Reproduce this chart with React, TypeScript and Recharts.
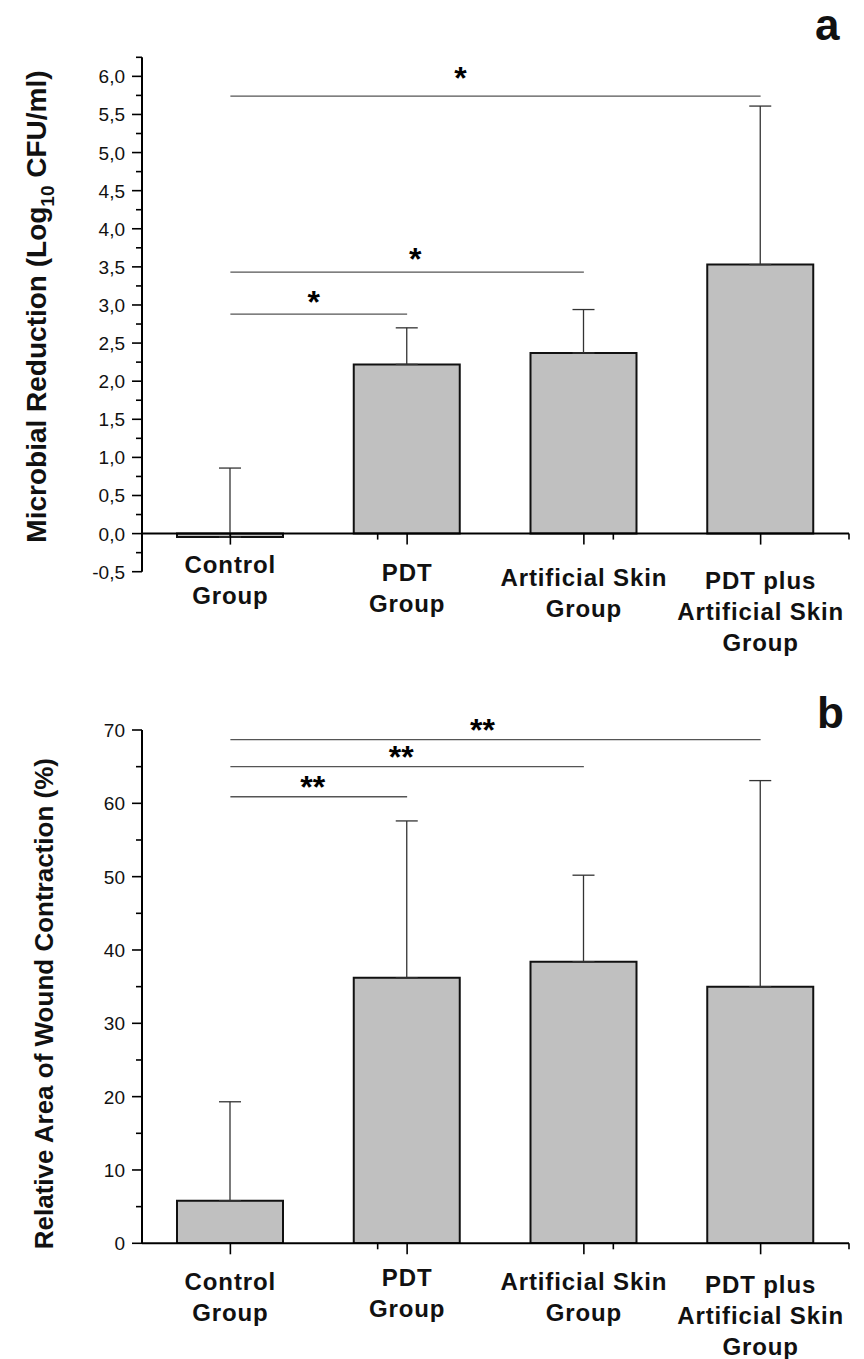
import { Bar, BarChart, ErrorBar, Label, ReferenceLine, XAxis, YAxis } from 'recharts';

// categories (tick labels are split over lines as in the figure)
const groups = ['Control', 'PDT', 'Artificial Skin', 'PDT plus Artificial Skin'];
const groupLines = [
  ['Control', 'Group'],
  ['PDT', 'Group'],
  ['Artificial Skin', 'Group'],
  ['PDT plus', 'Artificial Skin', 'Group'],
];

// panel a — microbial reduction (log10 CFU/ml)
const reductionMean = [-0.045, 2.22, 2.37, 3.53];
const reductionUpper = [0.86, 2.7, 2.94, 5.61];
const reductionMajor = [-0.5, 0, 0.5, 1, 1.5, 2, 2.5, 3, 3.5, 4, 4.5, 5, 5.5, 6];
const reductionMinor = [-0.25, 0.25, 0.75, 1.25, 1.75, 2.25, 2.75, 3.25, 3.75, 4.25, 4.75, 5.25, 5.75, 6.25];
const reductionSigTo = [1, 2, 3];
const reductionSigY = [2.88, 3.43, 5.74];
const reductionSigMark = ['*', '*', '*'];

// panel b — relative area of wound contraction (%)
const woundMean = [5.8, 36.2, 38.4, 35.0];
const woundUpper = [19.3, 57.6, 50.2, 63.1];
const woundMajor = [0, 10, 20, 30, 40, 50, 60, 70];
const woundMinor = [5, 15, 25, 35, 45, 55, 65];
const woundSigTo = [1, 2, 3];
const woundSigY = [60.9, 65.0, 68.7];
const woundSigMark = ['**', '**', '**'];

const SANS = '"Liberation Sans", Arial, sans-serif';
const NARROW = '"Liberation Sans Narrow", "Arial Narrow", "Liberation Sans", Arial, sans-serif';

const fmtComma = (v: number) => v.toFixed(1).replace('.', ',');
const fmtInt = (v: number) => String(v);

function YTick(props: any) {
  const { x, y, payload, majors, fmt } = props;
  const major = majors.includes(payload.value);
  return (
    <g>
      <line x1={x - (major ? 10 : 6)} x2={x} y1={y} y2={y} stroke="#000" strokeWidth={1.6} />
      {major && (
        <text x={x - 17} y={y} dy={7} textAnchor="end" fontSize={19} fontFamily={SANS} fill="#111">
          {fmt(payload.value)}
        </text>
      )}
    </g>
  );
}

function XTick(props: any) {
  const { x, y, index, firstDy, shifts } = props;
  const lines = groupLines[index] ?? [];
  return (
    <text
      x={x}
      y={y + firstDy + (shifts[index] ?? 0)}
      textAnchor="middle"
      fontSize={24}
      letterSpacing={0.9}
      fontWeight="bold"
      fontFamily={NARROW}
      fill="#111"
    >
      {lines.map((l, i) => (
        <tspan key={i} x={x} dy={i === 0 ? 0 : 31}>
          {l}
        </tspan>
      ))}
    </text>
  );
}

const tickMark = (len: number) => (p: any) => (
  <line x1={p.x1} x2={p.x1} y1={p.y1} y2={p.y1 + len} stroke="#000" strokeWidth={1.6} />
);

interface PanelProps {
  means: number[];
  uppers: number[];
  majors: number[];
  minors: number[];
  fmt: (v: number) => string;
  domain: [number, number];
  sigTo: number[];
  sigY: number[];
  sigMark: string[];
  sigDx: number[];
  sigOffset: number[];
  height: number;
  marginTop: number;
  xAxisHeight: number;
  labelDy: number;
  labelShift: number[];
  title: React.ReactNode;
  titleSize: number;
  titleX: number;
  titleDy: number;
}

function Panel(p: PanelProps) {
  const data = groups.map((name, i) => ({
    name,
    mean: p.means[i],
    err: [0, p.uppers[i] - p.means[i]],
  }));
  const ticks = [...p.majors, ...p.minors].sort((a, b) => a - b);
  return (
    <BarChart
      width={864}
      height={p.height}
      data={data}
      margin={{ top: p.marginTop, right: 15, bottom: 0, left: 0 }}
      barCategoryGap={0}
    >
      <XAxis
        dataKey="name"
        axisLine={false}
        tickLine={false}
        tickSize={0}
        tickMargin={0}
        interval={0}
        height={p.xAxisHeight}
        tick={<XTick firstDy={p.labelDy} shifts={p.labelShift} />}
      />
      <XAxis xAxisId="n" type="number" domain={[0, 4]} allowDataOverflow hide />
      <YAxis
        type="number"
        domain={p.domain}
        allowDataOverflow
        ticks={ticks}
        interval={0}
        width={142}
        tickLine={false}
        tickSize={0}
        tickMargin={0}
        axisLine={{ stroke: '#000', strokeWidth: 2 }}
        tick={<YTick majors={p.majors} fmt={p.fmt} />}
      >
        <Label
          content={(lp: any) => {
            const vb = lp.viewBox;
            const cy = vb.y + vb.height / 2 + p.titleDy;
            return (
              <text
                transform={`translate(${p.titleX},${cy}) rotate(-90)`}
                textAnchor="middle"
                fontSize={p.titleSize}
                fontWeight="bold"
                fontFamily={SANS}
                fill="#111"
              >
                {p.title}
              </text>
            );
          }}
        />
      </YAxis>
      <Bar dataKey="mean" fill="#c0c0c0" stroke="#111" strokeWidth={2} barSize={106} isAnimationActive={false}>
        <ErrorBar dataKey="err" width={11} stroke="#333" strokeWidth={1.3} isAnimationActive={false} />
      </Bar>
      <ReferenceLine y={0} stroke="#000" strokeWidth={2} />
      {groups.map((g) => (
        <ReferenceLine
          key={g}
          segment={[{ x: g, y: 0 }, { x: g, y: p.domain[0] }]}
          shape={tickMark(11)}
        />
      ))}
      {[1, 2, 3, 4].map((b) => (
        <ReferenceLine
          key={'b' + b}
          xAxisId="n"
          segment={[{ x: b, y: 0 }, { x: b, y: p.domain[0] }]}
          shape={tickMark(6)}
        />
      ))}
      {p.sigTo.map((to, i) => (
        <ReferenceLine
          key={'s' + i}
          segment={[{ x: groups[0], y: p.sigY[i] }, { x: groups[to], y: p.sigY[i] }]}
          stroke="#555"
          strokeWidth={1.3}
          label={{
            value: p.sigMark[i],
            position: 'top',
            dx: p.sigDx[i],
            offset: p.sigOffset[i],
            fontSize: 32,
            fontWeight: 'bold',
            fontFamily: SANS,
            fill: '#000',
          }}
        />
      ))}
    </BarChart>
  );
}

const letterStyle: React.CSSProperties = {
  position: 'absolute',
  fontFamily: NARROW,
  fontWeight: 'bold',
  fontSize: 44,
  lineHeight: 'normal',
  color: '#111',
};

export default function App() {
  return (
    <div style={{ position: 'absolute', left: 0, top: 0, width: 864, height: 1359, background: '#fff' }}>
      <div style={{ position: 'absolute', left: 0, top: 0 }}>
        <Panel
          means={reductionMean}
          uppers={reductionUpper}
          majors={reductionMajor}
          minors={reductionMinor}
          fmt={fmtComma}
          domain={[-0.5, 6.25]}
          sigTo={reductionSigTo}
          sigY={reductionSigY}
          sigMark={reductionSigMark}
          sigDx={[-5, 8, -35]}
          sigOffset={[1, 2, 7]}
          height={690}
          marginTop={57.3}
          xAxisHeight={118.3}
          labelDy={1}
          labelShift={[0, 8, 13, 16]}
          titleSize={28}
          titleX={46}
          titleDy={-8}
          title={
            <>
              <tspan>Microbial Reduction (Log</tspan>
              <tspan fontSize={19} dy={8}>10</tspan>
              <tspan dy={-8}> CFU/ml)</tspan>
            </>
          }
        />
      </div>
      <div style={{ position: 'absolute', left: 0, top: 690 }}>
        <Panel
          means={woundMean}
          uppers={woundUpper}
          majors={woundMajor}
          minors={woundMinor}
          fmt={fmtInt}
          domain={[0, 70]}
          sigTo={woundSigTo}
          sigY={woundSigY}
          sigMark={woundSigMark}
          sigDx={[-6, -6, -13]}
          sigOffset={[-1, -1, -1]}
          height={669}
          marginTop={40}
          xAxisHeight={115.7}
          labelDy={47}
          labelShift={[0, -4, 0, 3]}
          titleSize={26}
          titleX={53}
          titleDy={17}
          title="Relative Area of Wound Contraction (%)"
        />
      </div>
      <div style={{ ...letterStyle, left: 815, top: 0 }}>a</div>
      <div style={{ ...letterStyle, left: 817, top: 688 }}>b</div>
    </div>
  );
}
